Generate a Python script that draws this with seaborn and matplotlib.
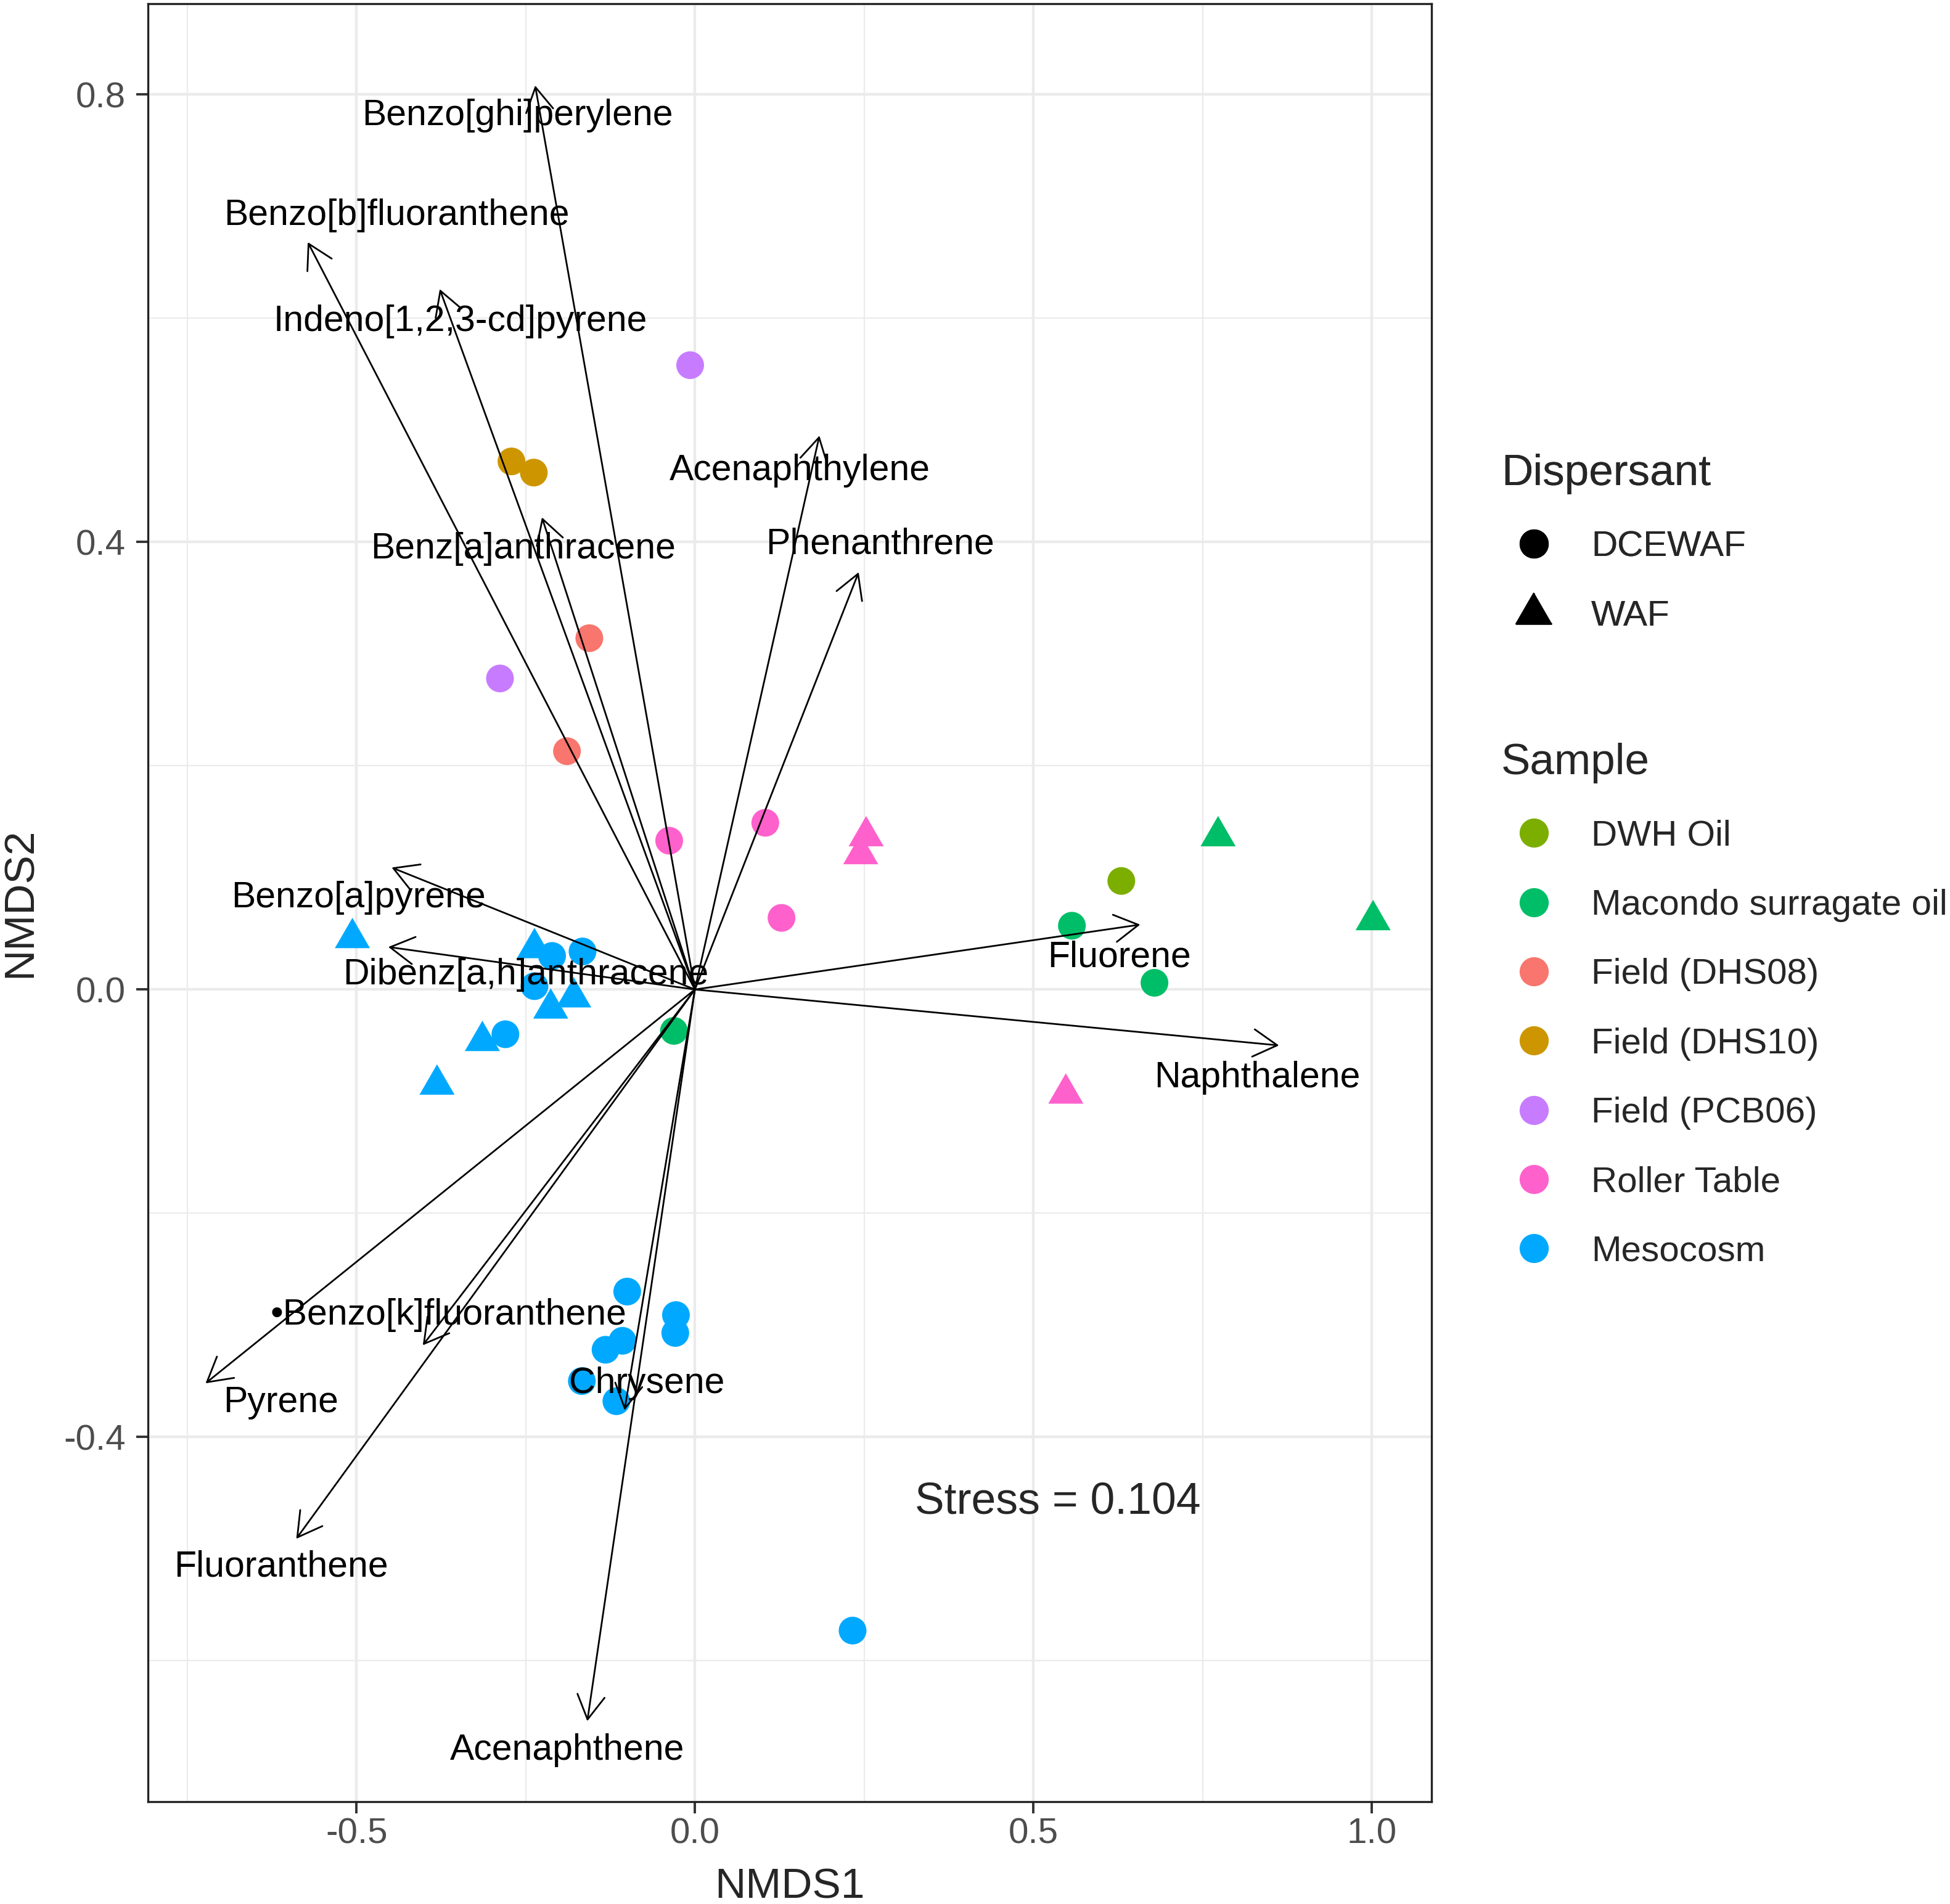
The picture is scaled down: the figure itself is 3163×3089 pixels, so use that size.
import numpy as np
import pandas as pd
import matplotlib
matplotlib.use("Agg")
import matplotlib.pyplot as plt
from matplotlib.patches import FancyArrowPatch
from matplotlib.lines import Line2D
import seaborn as sns

# sample scores
sample_group = (["DWH Oil"]
                + ["Macondo surragate oil"] * 5
                + ["Field (DHS08)"] * 2
                + ["Field (DHS10)"] * 2
                + ["Field (PCB06)"] * 2
                + ["Roller Table"] * 6
                + ["Mesocosm"] * 18)
dispersant = (["DCEWAF"]
              + ["DCEWAF"] * 3 + ["WAF"] * 2
              + ["DCEWAF"] * 2
              + ["DCEWAF"] * 2
              + ["DCEWAF"] * 2
              + ["DCEWAF"] * 3 + ["WAF"] * 3
              + ["DCEWAF"] * 12 + ["WAF"] * 6)
nmds1 = [0.630,
         0.557, 0.679, -0.031, 0.773, 1.002,
         -0.156, -0.189,
         -0.271, -0.238,
         -0.007, -0.288,
         -0.038, 0.104, 0.128, 0.253, 0.245, 0.548,
         -0.211, -0.166, -0.237, -0.280, -0.100, -0.028, -0.029, -0.107,
         -0.132, -0.167, -0.116, 0.233,
         -0.506, -0.237, -0.179, -0.213, -0.314, -0.381]
nmds2 = [0.097,
         0.057, 0.006, -0.037, 0.137, 0.062,
         0.314, 0.213,
         0.472, 0.462,
         0.558, 0.278,
         0.133, 0.149, 0.064, 0.137, 0.121, -0.093,
         0.030, 0.034, 0.003, -0.040, -0.270, -0.291, -0.307, -0.314,
         -0.322, -0.350, -0.368, -0.573,
         0.046, 0.037, -0.007, -0.017, -0.046, -0.085]

# PAH vectors
pah = ["Benzo[ghi]perylene", "Benzo[b]fluoranthene", "Indeno[1,2,3-cd]pyrene",
       "Acenaphthylene", "Benz[a]anthracene", "Phenanthrene", "Benzo[a]pyrene",
       "Dibenz[a,h]anthracene", "Fluorene", "Naphthalene", "\u2022Benzo[k]fluoranthene",
       "Pyrene", "Fluoranthene", "Chrysene", "Acenaphthene"]
vec_x = [-0.236, -0.572, -0.377, 0.184, -0.226, 0.242, -0.448,
         -0.453, 0.658, 0.863, -0.402, -0.723, -0.589, -0.104, -0.159]
vec_y = [0.808, 0.668, 0.626, 0.495, 0.422, 0.373, 0.109,
         0.038, 0.058, -0.050, -0.318, -0.352, -0.491, -0.376, -0.654]
lab_x = [-0.262, -0.441, -0.346, 0.155, -0.254, 0.274, -0.497,
         -0.250, 0.627, 0.831, -0.364, -0.612, -0.611, -0.071, -0.189]
lab_y = [0.781, 0.692, 0.597, 0.464, 0.394, 0.398, 0.082,
         0.013, 0.029, -0.079, -0.291, -0.369, -0.516, -0.352, -0.680]

stress = 0.104

groups = ["DWH Oil", "Macondo surragate oil", "Field (DHS08)", "Field (DHS10)",
          "Field (PCB06)", "Roller Table", "Mesocosm"]
colors = ["#7CAE00", "#00BE67", "#F8766D", "#CD9600", "#C77CFF", "#FF61CC", "#00A9FF"]
pal = dict(zip(groups, colors))

df = pd.DataFrame({"NMDS1": nmds1, "NMDS2": nmds2,
                   "Sample": sample_group, "Dispersant": dispersant})

sns.set_theme(style="white")
plt.rcParams["font.family"] = ["Liberation Sans", "DejaVu Sans"]

fig = plt.figure(figsize=(15.815, 15.445), dpi=200)
ax = fig.add_axes([0.0759, 0.0537, 0.6581, 0.9443])

tri = [(0, 1), (-0.866, -0.5), (0.866, -0.5)]

sns.scatterplot(data=df[df.Dispersant == "DCEWAF"], x="NMDS1", y="NMDS2",
                hue="Sample", palette=pal, marker="o", s=262, linewidth=0,
                legend=False, ax=ax, zorder=2)
sns.scatterplot(data=df[df.Dispersant == "WAF"], x="NMDS1", y="NMDS2",
                hue="Sample", palette=pal, marker=tri, s=560, linewidth=0,
                legend=False, ax=ax, zorder=2)

# arrows + labels
for name, vx, vy, lx, ly in zip(pah, vec_x, vec_y, lab_x, lab_y):
    arr = FancyArrowPatch((0, 0), (vx, vy),
                          arrowstyle="->,head_length=0.7,head_width=0.4",
                          mutation_scale=20, lw=1.0, color="black",
                          shrinkA=0, shrinkB=0, zorder=3)
    ax.add_patch(arr)
    ax.text(lx, ly, name, ha="center", va="center", fontsize=21.2, color="black", zorder=4)

ax.text(0.536, -0.458, f"Stress = {stress}", ha="center", va="center", fontsize=25.8)

ax.set_xlim(-0.808, 1.088)
ax.set_ylim(-0.726, 0.881)
ax.set_xticks([-0.5, 0.0, 0.5, 1.0])
ax.set_xticklabels(["-0.5", "0.0", "0.5", "1.0"])
ax.set_yticks([-0.4, 0.0, 0.4, 0.8])
ax.set_yticklabels(["-0.4", "0.0", "0.4", "0.8"])
ax.set_xticks([-0.75, -0.25, 0.25, 0.75], minor=True)
ax.set_yticks([-0.6, -0.2, 0.2, 0.6], minor=True)
ax.grid(which="major", color="#EBEBEB", lw=1.6, zorder=0)
ax.grid(which="minor", color="#EBEBEB", lw=0.8, zorder=0)
ax.set_axisbelow(True)
ax.tick_params(which="major", length=7, width=1.4, color="#333333",
               labelsize=21, labelcolor="#4D4D4D", left=True, bottom=True)
ax.tick_params(axis="y", pad=6)
ax.tick_params(axis="x", pad=2)
ax.tick_params(which="minor", length=0)
for sp in ax.spines.values():
    sp.set_color("#222222")
    sp.set_linewidth(1.2)

ax.set_xlabel("NMDS1", fontsize=25, labelpad=10)
ax.set_ylabel("NMDS2", fontsize=25, labelpad=14)

# legends
leg_kw = dict(loc="upper left", frameon=False, fontsize=21, title_fontsize=25.6,
              alignment="left", borderpad=0.4, borderaxespad=0, labelspacing=1.0,
              handlelength=1.82, handletextpad=0.69)
disp_handles = [Line2D([], [], marker="o", color="black", ls="", markersize=16),
                Line2D([], [], marker=tri, color="black", ls="", markersize=24)]
leg1 = fig.legend(disp_handles, ["DCEWAF", "WAF"], title="Dispersant",
                  bbox_to_anchor=(0.7624, 0.7692), **leg_kw)
samp_handles = [Line2D([], [], marker="o", color=c, ls="", markersize=16) for c in colors]
leg2 = fig.legend(samp_handles, groups, title="Sample",
                  bbox_to_anchor=(0.7624, 0.6173), **leg_kw)
fig.add_artist(leg1)

fig.savefig("out.png", dpi=200)
